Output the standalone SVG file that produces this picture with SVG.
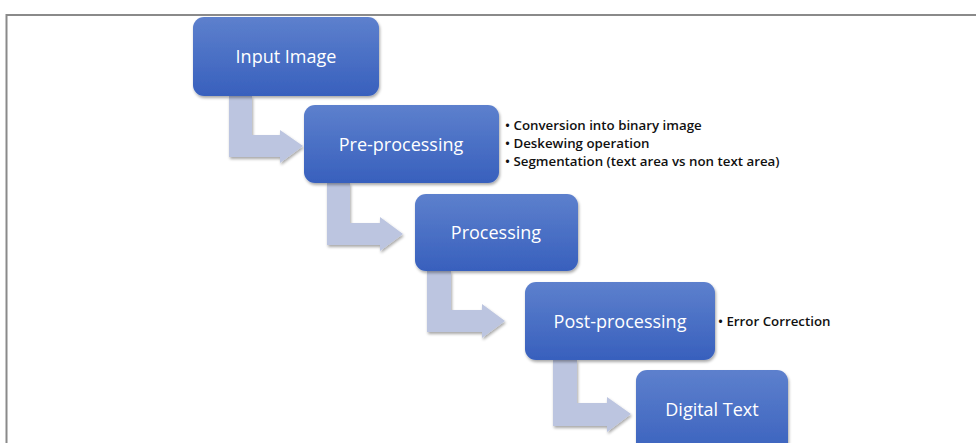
<svg xmlns="http://www.w3.org/2000/svg" width="976" height="443" viewBox="0 0 976 443">
<defs>
<linearGradient id="g" x1="0" y1="0" x2="0" y2="1">
<stop offset="0" stop-color="#5d80cd"/>
<stop offset="1" stop-color="#3860bd"/>
</linearGradient>
<filter id="sh" x="-10%" y="-10%" width="130%" height="140%">
<feGaussianBlur in="SourceAlpha" stdDeviation="1.5"/>
<feOffset dx="1" dy="2" result="b"/>
<feComponentTransfer><feFuncA type="linear" slope="0.35"/></feComponentTransfer>
<feMerge><feMergeNode/><feMergeNode in="SourceGraphic"/></feMerge>
</filter>
</defs>
<style>
.box{fill:url(#g);filter:url(#sh)}
.lbl{font-family:"Open Sans","Liberation Sans",sans-serif;font-size:18px;font-weight:500;fill:#fff;text-anchor:middle;dominant-baseline:central}
.note{font-family:"Open Sans","Liberation Sans",sans-serif;font-size:13.3px;font-weight:600;fill:#111;dominant-baseline:central}
.arr{fill:#bcc5e0;filter:url(#sh)}
.frame{stroke:#8a8a8a;stroke-width:2;fill:none}
</style>
<rect width="976" height="443" fill="#fff"/>
<path class="frame" d="M6.5,443 V15 H976"/>
<g id="connectors">
<path class="arr" d="M229,96 V157 H280 V163 L303,146 L280,130 V135 H252 V96 Z"/>
<path class="arr" d="M327,183 V245 H380 V251 L403,234 L380,217 V223 H350 V183 Z"/>
<path class="arr" d="M427,271 V332 H482 V338 L505,321 L482,304 V310 H451 V271 Z"/>
<path class="arr" d="M553,360 V426 H607 V432 L631,414 L607,397 V403 H577 V360 Z"/>
</g>
<g id="input-image">
<rect class="box" x="193" y="17" width="186" height="79" rx="11"/>
<text class="lbl" x="286" y="56">Input Image</text>
</g>
<g id="pre-processing">
<rect class="box" x="304" y="105" width="195" height="78" rx="11"/>
<text class="lbl" x="401" y="144">Pre-processing</text>
<text class="note" x="505" y="125">• Conversion into binary image</text>
<text class="note" x="505" y="143">• Deskewing operation</text>
<text class="note" x="505" y="161">• Segmentation (text area vs non text area)</text>
</g>
<g id="processing">
<rect class="box" x="415" y="194" width="163" height="77" rx="11"/>
<text class="lbl" x="496" y="232">Processing</text>
</g>
<g id="post-processing">
<rect class="box" x="525" y="282" width="190" height="78" rx="11"/>
<text class="lbl" x="620" y="321">Post-processing</text>
<text class="note" x="718" y="321">• Error Correction</text>
</g>
<g id="digital-text">
<rect class="box" x="636" y="370" width="152" height="90" rx="11"/>
<text class="lbl" x="712" y="409">Digital Text</text>
</g>
</svg>
